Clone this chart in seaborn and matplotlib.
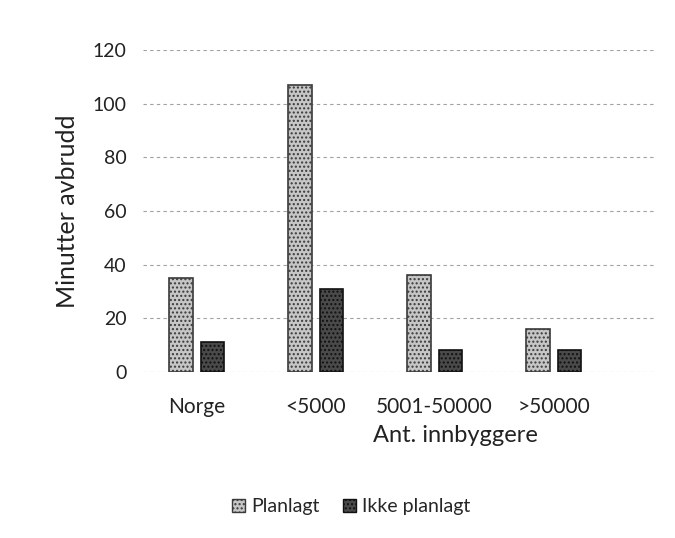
import matplotlib
matplotlib.use("Agg")
import matplotlib.pyplot as plt
import seaborn as sns
import pandas as pd
from matplotlib.patches import Patch

categories = ["Norge", "<5000", "5001-50000", ">50000"]
planlagt = [35, 107, 36, 16]
ikke_planlagt = [11, 31, 8, 8]
series_names = ["Planlagt", "Ikke planlagt"]
yticks = [0, 20, 40, 60, 80, 100, 120]

df = pd.DataFrame({
    "Kategori": categories * 2,
    "Serie": [series_names[0]] * len(categories) + [series_names[1]] * len(categories),
    "Verdi": planlagt + ikke_planlagt,
})

sns.set_theme(style="white")
plt.rcParams["font.family"] = ["Lato", "DejaVu Sans"]

colors = {"Planlagt": "#c6c6c6", "Ikke planlagt": "#4a4a4a"}
edges = {"Planlagt": "#3a3a3a", "Ikke planlagt": "#111111"}

fig = plt.figure(figsize=(6.75, 5.38), dpi=100)
ax = fig.add_axes([0.212, 0.309, 0.758, 0.598])

sns.barplot(data=df, x="Kategori", y="Verdi", hue="Serie", palette=colors,
            order=categories, hue_order=series_names, width=0.53, gap=0.26,
            legend=False, ax=ax, linewidth=1.2)
for cont, name in zip(ax.containers, series_names):
    for p in cont:
        p.set_edgecolor(edges[name])
        p.set_hatch("....")

ax.set_ylim(0, 120)
ax.set_yticks(yticks)
ax.set_xlim(-0.45, 3.85)
ax.yaxis.grid(True, linestyle=(0, (3, 3)), color="#a0a0a0", linewidth=0.8)
ax.set_axisbelow(True)
for s in ax.spines.values():
    s.set_visible(False)
ax.tick_params(axis="y", labelsize=14, length=0, pad=12, colors="#222222")
ax.tick_params(axis="x", labelsize=15, length=0, pad=18, colors="#222222")
ax.set_ylabel("Minutter avbrudd", fontsize=18, color="#222222", labelpad=10)
ax.set_xlabel("Ant. innbyggere", fontsize=17, color="#222222", labelpad=8)
ax.xaxis.set_label_coords(0.61, -0.165)

handles = [Patch(facecolor=colors[n], edgecolor=edges[n], hatch="....") for n in series_names]
fig.legend(handles, series_names, loc="center", bbox_to_anchor=(0.52, 0.058), ncol=2,
           frameon=False, fontsize=14, handlelength=0.7, handleheight=0.7,
           columnspacing=1.2, handletextpad=0.3)

fig.savefig("out.png", dpi=100, facecolor="white")
